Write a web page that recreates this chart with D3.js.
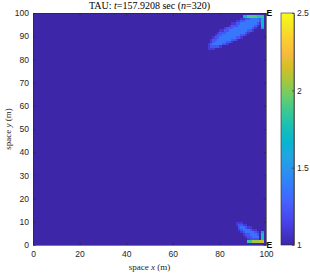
<!DOCTYPE html>
<html>
<head>
<meta charset="utf-8">
<script src="https://cdn.jsdelivr.net/npm/d3@7"></script>
<style>
  body { margin: 0; background: #fff; }
  svg { display: block; }
</style>
</head>
<body>
<div id="chart"></div>
<script>
// domain of the field and colour limits
const xDomain = [0, 100];
const yDomain = [0, 100];
const cLimits = [1, 2.5];
const xTicks = [0, 20, 40, 60, 80, 100];
const yTicks = [0, 10, 20, 30, 40, 50, 60, 70, 80, 90, 100];
const cTicks = [1, 1.5, 2, 2.5];
const backgroundValue = 1;

// patches of the field that differ from the background: [x0, x1, y0, y1, value]
const topBlobFringe = [
  [75, 78, 84, 85, 1.1], [75, 81, 85, 86, 1.1], [75, 84, 86, 87, 1.1],
  [76, 86, 87, 88, 1.1], [76, 88, 88, 89, 1.1], [77, 90, 89, 90, 1.1],
  [78, 92, 90, 91, 1.1], [79, 93, 91, 92, 1.1], [80, 95, 92, 93, 1.1],
  [82, 96, 93, 94, 1.1], [84, 97, 94, 95, 1.1], [85, 98, 95, 96, 1.1],
  [87, 98, 96, 97, 1.1], [89, 98, 97, 98, 1.1]
];
const topBlobOuter = [
  [76, 80, 85, 86, 1.22], [76, 83, 86, 87, 1.22], [77, 85, 87, 88, 1.22],
  [77, 87, 88, 89, 1.22], [78, 89, 89, 90, 1.22], [79, 91, 90, 91, 1.22],
  [80, 92, 91, 92, 1.22], [82, 94, 92, 93, 1.22], [83, 95, 93, 94, 1.22],
  [85, 96, 94, 95, 1.22], [87, 97, 95, 96, 1.22], [89, 98, 96, 97, 1.22],
  [91, 98, 97, 98, 1.22]
];
const topBlobInner = [
  [77, 81, 86, 87, 1.36], [78, 83, 87, 88, 1.36], [79, 85, 88, 89, 1.36],
  [80, 87, 89, 90, 1.36], [81, 89, 90, 91, 1.36], [83, 91, 91, 92, 1.36],
  [84, 92, 92, 93, 1.36], [86, 94, 93, 94, 1.36], [88, 95, 94, 95, 1.36],
  [89, 96, 95, 96, 1.36], [91, 97, 96, 97, 1.36], [93, 97, 97, 98, 1.36]
];
const topEdge = [
  [90, 92, 98, 99, 1.7], [92, 96, 98, 99, 1.9], [96, 99, 98, 99, 1.8],
  [98, 99, 94, 98, 1.7], [98, 99, 93, 94, 1.45]
];
const bottomBlobFringe = [
  [87, 90, 9, 10, 1.1], [87, 92, 8, 9, 1.1], [88, 94, 7, 8, 1.1],
  [88, 96, 6, 7, 1.1], [89, 97, 5, 6, 1.1], [90, 97, 4, 5, 1.1],
  [91, 97, 3, 4, 1.1], [92, 97, 2, 3, 1.1]
];
const bottomBlobOuter = [
  [88, 90, 8, 9, 1.2], [88, 92, 7, 8, 1.2], [89, 94, 6, 7, 1.2],
  [90, 96, 5, 6, 1.2], [91, 97, 4, 5, 1.2], [92, 97, 3, 4, 1.2],
  [93, 97, 2, 3, 1.2]
];
const bottomBlobInner = [
  [89, 91, 7, 8, 1.34], [90, 93, 6, 7, 1.34], [91, 95, 5, 6, 1.34],
  [93, 96, 4, 5, 1.34], [94, 97, 3, 4, 1.34]
];
const bottomEdge = [
  [92, 94, 1, 2, 1.85], [94, 97, 1, 2, 2.05], [97, 99, 1, 2, 2.15],
  [98, 99, 2, 5, 1.75], [98, 99, 5, 6, 1.45]
];
const markers = [
  { x: 100, y: 100, label: "E" },
  { x: 100, y: 0, label: "E" }
];

// parula colormap (rows of parula(64))
const parulaPos = [0, 4, 8, 12, 16, 20, 24, 28, 32, 36, 40, 44, 48, 52, 56, 60, 63].map(r => r / 63);
const parulaRGB = [
  [0.2422, 0.1504, 0.6603], [0.2706, 0.2147, 0.8364], [0.2813, 0.3006, 0.9414],
  [0.2699, 0.3892, 0.9906], [0.1963, 0.4847, 0.9892], [0.1687, 0.5703, 0.9359],
  [0.1248, 0.6459, 0.8883], [0.0297, 0.7082, 0.8163], [0.0964, 0.7500, 0.7120],
  [0.2161, 0.7843, 0.5923], [0.3909, 0.8029, 0.4354], [0.6174, 0.7876, 0.2612],
  [0.8203, 0.7498, 0.1535], [0.9728, 0.7298, 0.2394], [0.9892, 0.8136, 0.1885],
  [0.9597, 0.9135, 0.1423], [0.9769, 0.9839, 0.0805]
];
const parulaHex = parulaRGB.map(c => d3.rgb(c[0] * 255, c[1] * 255, c[2] * 255).formatHex());

const width = 310, height = 273;
const plot = { left: 33, right: 266, top: 13, bottom: 245 };
const bar = { x: 281, w: 13 };
const axisColor = "#262626";
const sans = "'Liberation Sans', Arial, sans-serif";
const serif = "'Liberation Serif', 'Times New Roman', serif";

const x = d3.scaleLinear().domain(xDomain).range([plot.left, plot.right]);
const y = d3.scaleLinear().domain(yDomain).range([plot.bottom, plot.top]);
const tScale = d3.scaleLinear().domain(parulaPos).range(parulaHex).interpolate(d3.interpolateRgb).clamp(true);
const color = v => tScale((v - cLimits[0]) / (cLimits[1] - cLimits[0]));
const cy = d3.scaleLinear().domain(cLimits).range([plot.bottom, plot.top]);

const svg = d3.select("#chart").append("svg")
  .attr("width", width)
  .attr("height", height);

// field
const field = svg.append("g").attr("shape-rendering", "crispEdges");
field.append("rect")
  .attr("x", x(xDomain[0])).attr("y", y(yDomain[1]))
  .attr("width", x(xDomain[1]) - x(xDomain[0]))
  .attr("height", y(yDomain[0]) - y(yDomain[1]))
  .attr("fill", color(backgroundValue));

[topBlobFringe, topBlobOuter, topBlobInner, topEdge,
 bottomBlobFringe, bottomBlobOuter, bottomBlobInner, bottomEdge].forEach(patch => {
  field.append("g").selectAll("rect")
    .data(patch)
    .join("rect")
    .attr("x", d => x(d[0]))
    .attr("width", d => x(d[1]) - x(d[0]))
    .attr("y", d => y(d[3]))
    .attr("height", d => y(d[2]) - y(d[3]))
    .attr("fill", d => color(d[4]));
});

// axes, ticks pointing inward on all four sides
function styleAxis(g) {
  g.selectAll("path, line").attr("stroke", axisColor).attr("stroke-width", 0.6);
  g.selectAll("text").attr("fill", axisColor).style("font-family", sans).style("font-size", "8.5px");
}
svg.append("g")
  .attr("transform", `translate(0,${plot.bottom})`)
  .call(d3.axisBottom(x).tickValues(xTicks).tickSizeInner(-2.5).tickSizeOuter(0).tickPadding(6))
  .call(styleAxis);
svg.append("g")
  .attr("transform", `translate(0,${plot.top})`)
  .call(d3.axisTop(x).tickValues(xTicks).tickFormat("").tickSizeInner(-2.5).tickSizeOuter(0))
  .call(styleAxis);
svg.append("g")
  .attr("transform", `translate(${plot.left},0)`)
  .call(d3.axisLeft(y).tickValues(yTicks).tickSizeInner(-2.5).tickSizeOuter(0).tickPadding(4))
  .call(styleAxis);
svg.append("g")
  .attr("transform", `translate(${plot.right},0)`)
  .call(d3.axisRight(y).tickValues(yTicks).tickFormat("").tickSizeInner(-2.5).tickSizeOuter(0))
  .call(styleAxis);

// corner markers
svg.selectAll(".marker")
  .data(markers)
  .join("text")
  .attr("class", "marker")
  .attr("x", d => x(d.x) + 0.5)
  .attr("y", d => y(d.y))
  .attr("dy", "0.36em")
  .style("font-family", sans)
  .style("font-size", "8.5px")
  .style("font-weight", "bold")
  .attr("fill", "#000")
  .text(d => d.label);

// title
const title = svg.append("text")
  .attr("x", (plot.left + plot.right) / 2)
  .attr("y", 8.5)
  .attr("text-anchor", "middle")
  .style("font-family", serif)
  .style("font-size", "10px")
  .attr("fill", "#000");
title.append("tspan").text("TAU: ");
title.append("tspan").style("font-style", "italic").text("t");
title.append("tspan").text("=157.9208 sec (");
title.append("tspan").style("font-style", "italic").text("n");
title.append("tspan").text("=320)");

// axis labels
const xl = svg.append("text")
  .attr("x", (plot.left + plot.right) / 2)
  .attr("y", 270)
  .attr("text-anchor", "middle")
  .style("font-family", serif)
  .style("font-size", "9px")
  .attr("fill", axisColor);
xl.append("tspan").text("space ");
xl.append("tspan").style("font-style", "italic").text("x");
xl.append("tspan").text(" (m)");

const yl = svg.append("text")
  .attr("transform", `translate(11,${(plot.top + plot.bottom) / 2}) rotate(-90)`)
  .attr("text-anchor", "middle")
  .style("font-family", serif)
  .style("font-size", "9px")
  .attr("fill", axisColor);
yl.append("tspan").text("space ");
yl.append("tspan").style("font-style", "italic").text("y");
yl.append("tspan").text(" (m)");

// colorbar
const grad = svg.append("defs").append("linearGradient")
  .attr("id", "parula")
  .attr("x1", 0).attr("y1", 1).attr("x2", 0).attr("y2", 0);
grad.selectAll("stop")
  .data(parulaPos)
  .join("stop")
  .attr("offset", d => d)
  .attr("stop-color", (d, i) => parulaHex[i]);

svg.append("rect")
  .attr("x", bar.x).attr("y", cy(cLimits[1]))
  .attr("width", bar.w).attr("height", cy(cLimits[0]) - cy(cLimits[1]))
  .attr("fill", "url(#parula)");

svg.append("g")
  .attr("transform", `translate(${bar.x + bar.w},0)`)
  .call(d3.axisRight(cy).tickValues(cTicks).tickFormat(d3.format("")).tickSizeInner(-2).tickSizeOuter(0).tickPadding(3))
  .call(styleAxis);
svg.append("rect")
  .attr("x", bar.x).attr("y", cy(cLimits[1]))
  .attr("width", bar.w).attr("height", cy(cLimits[0]) - cy(cLimits[1]))
  .attr("fill", "none")
  .attr("stroke", axisColor)
  .attr("stroke-width", 0.6);
</script>
</body>
</html>
